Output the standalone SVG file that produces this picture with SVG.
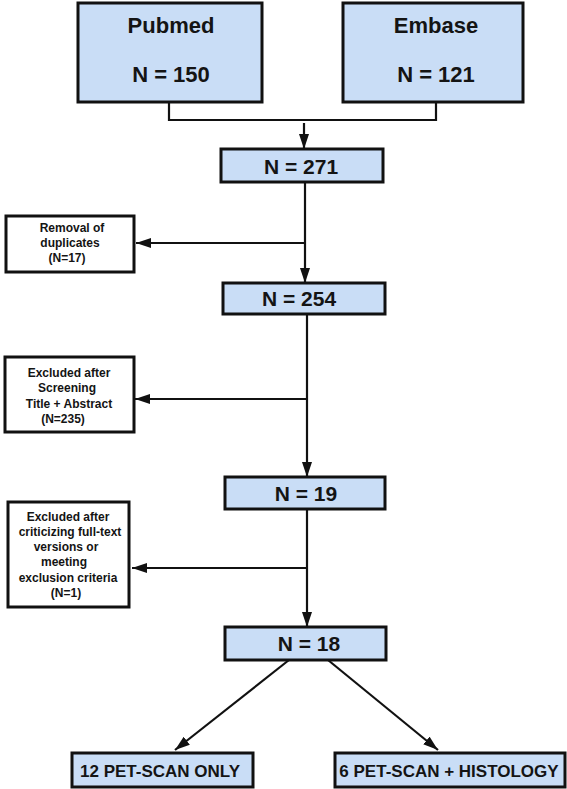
<svg xmlns="http://www.w3.org/2000/svg" width="567" height="789" viewBox="0 0 567 789">
<defs>
<style>
.bx{fill:#c9ddf6;stroke:#111;stroke-width:3}
.sb{fill:#fff;stroke:#111;stroke-width:3}
.t{font-family:"Liberation Sans",Arial,sans-serif;font-weight:bold;fill:#141414;text-anchor:middle}
.big{font-size:22px}
.mid{font-size:21px}
.bot{font-size:17px}
.sm{font-size:12px}
.ln{fill:none;stroke:#111;stroke-width:2.2}
</style>
<marker id="ah" markerUnits="userSpaceOnUse" markerWidth="16" markerHeight="12" refX="15" refY="5" orient="auto">
<path d="M0,0 L15,5 L0,10 z" fill="#111"/>
</marker>
</defs>
<rect width="567" height="789" fill="#fff"/>
<g id="connectors">
<path class="ln" d="M169,102 V120 H436 V102"/>
<path class="ln" d="M304,123 V149" marker-end="url(#ah)"/>
<path class="ln" d="M305,182 V243"/>
<path class="ln" d="M305,243 H136" marker-end="url(#ah)"/>
<path class="ln" d="M305,243 V283" marker-end="url(#ah)"/>
<path class="ln" d="M307,314 V399"/>
<path class="ln" d="M307,399 H135" marker-end="url(#ah)"/>
<path class="ln" d="M307,399 V477" marker-end="url(#ah)"/>
<path class="ln" d="M307,509 V568"/>
<path class="ln" d="M307,568 H132" marker-end="url(#ah)"/>
<path class="ln" d="M307,568 V627" marker-end="url(#ah)"/>
<path class="ln" d="M289,660 L175,750" marker-end="url(#ah)"/>
<path class="ln" d="M328,660 L438,750" marker-end="url(#ah)"/>
</g>
<g id="pubmed">
<rect class="bx" x="78" y="3" width="184" height="99"/>
<text class="t big" x="171" y="33">Pubmed</text>
<text class="t big" x="171" y="82">N = 150</text>
</g>
<g id="embase">
<rect class="bx" x="343" y="3" width="180" height="99"/>
<text class="t big" x="436" y="33">Embase</text>
<text class="t big" x="436" y="82">N = 121</text>
</g>
<g id="n271">
<rect class="bx" x="221" y="149" width="162" height="33"/>
<text class="t mid" x="301" y="174">N = 271</text>
</g>
<g id="dup">
<rect class="sb" x="6" y="216" width="128" height="56"/>
<text class="t sm" x="72" y="232">Removal of</text>
<text class="t sm" x="70" y="247">duplicates</text>
<text class="t sm" x="67" y="262">(N=17)</text>
</g>
<g id="n254">
<rect class="bx" x="223" y="283" width="162" height="31"/>
<text class="t mid" x="299" y="306">N = 254</text>
</g>
<g id="excl1">
<rect class="sb" x="5" y="357" width="129" height="75"/>
<text class="t sm" x="69" y="377">Excluded after</text>
<text class="t sm" x="67" y="392">Screening</text>
<text class="t sm" x="69" y="408">Title + Abstract</text>
<text class="t sm" x="63" y="423">(N=235)</text>
</g>
<g id="n19">
<rect class="bx" x="225" y="477" width="160" height="32"/>
<text class="t mid" x="306" y="501">N = 19</text>
</g>
<g id="excl2">
<rect class="sb" x="8" y="502" width="121" height="105"/>
<text class="t sm" x="68" y="521">Excluded after</text>
<text class="t sm" x="70" y="536">criticizing full-text</text>
<text class="t sm" x="66" y="551">versions or</text>
<text class="t sm" x="64" y="566">meeting</text>
<text class="t sm" x="68" y="582">exclusion criteria</text>
<text class="t sm" x="66" y="597">(N=1)</text>
</g>
<g id="n18">
<rect class="bx" x="225" y="627" width="161" height="33"/>
<text class="t mid" x="309" y="651">N = 18</text>
</g>
<g id="petonly">
<rect class="bx" x="72" y="753" width="181" height="34"/>
<text class="t bot" x="160" y="777">12 PET-SCAN ONLY</text>
</g>
<g id="pethisto">
<rect class="bx" x="335" y="753" width="230" height="34"/>
<text class="t bot" x="449" y="777">6 PET-SCAN + HISTOLOGY</text>
</g>
</svg>
